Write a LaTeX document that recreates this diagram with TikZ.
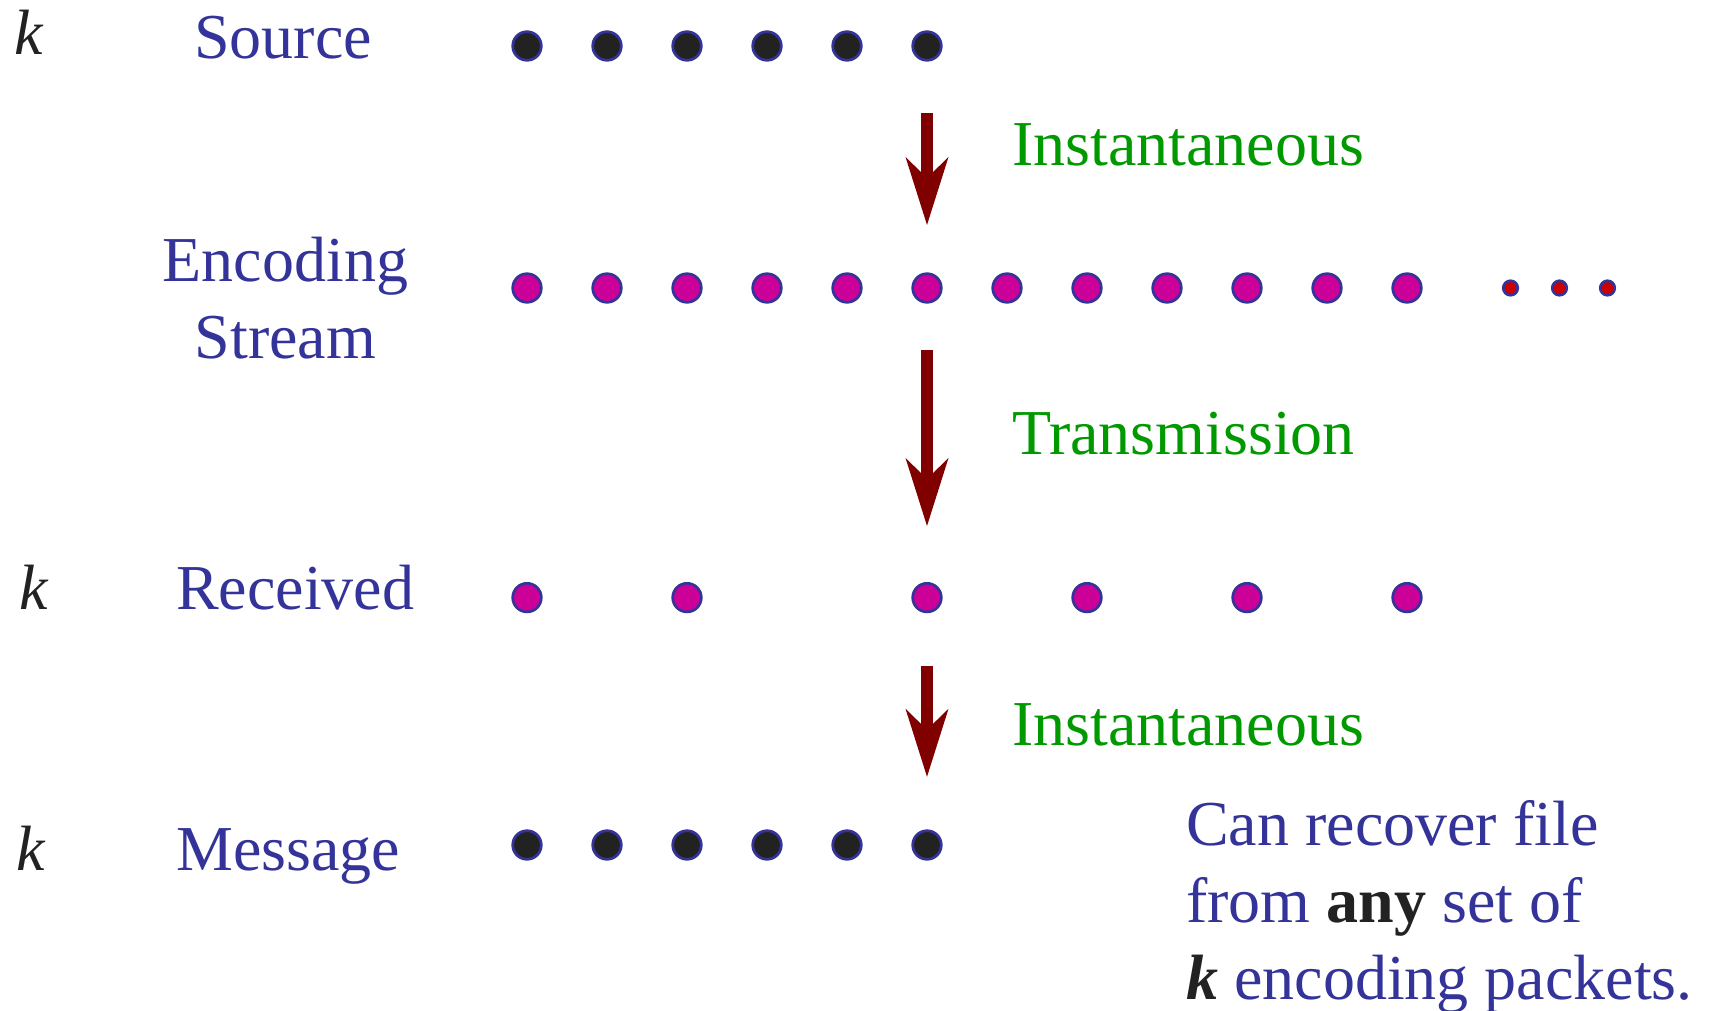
\documentclass[tikz,border=0pt]{standalone}
\usepackage{fontspec}
\setmainfont{Liberation Serif}
\usetikzlibrary{arrows.meta}

\definecolor{labelblue}{HTML}{333399}
\definecolor{stepgreen}{HTML}{009900}
\definecolor{arrowred}{HTML}{800000}
\definecolor{dotblack}{HTML}{222222}
\definecolor{dotmagenta}{HTML}{CC0099}
\definecolor{dotred}{HTML}{CC0000}

\tikzset{
    dot/.style={circle, draw=labelblue, line width=2.7pt, inner sep=0pt, minimum size=28.6pt},
    srcdot/.style={dot, fill=dotblack},
    encdot/.style={dot, fill=dotmagenta},
    moredot/.style={dot, fill=dotred, minimum size=14.5pt},
    flow/.style={-{Stealth[length=68pt, width=43pt, inset=21pt, line width=0pt]},
                 line width=11.7pt, arrowred},
    bigtext/.style={font=\fontsize{64}{77}\selectfont, inner sep=0pt},
    rowlabel/.style={bigtext, text=labelblue, anchor=base west},
    kcount/.style={bigtext, text=dotblack, anchor=base west, font=\fontsize{64}{77}\selectfont\itshape},
    steplabel/.style={bigtext, text=stepgreen, anchor=base west},
}

\begin{document}
\begin{tikzpicture}[x=1pt, y=-1pt]
    \useasboundingbox (0,0) rectangle (1710,1010);

    % Row labels
    \node[kcount]   (ksource)   at (14,54)   {k};
    \node[rowlabel] (source)    at (194,58)  {Source};
    \node[bigtext, text=labelblue, align=center, anchor=north] (stream) at (285.5,237) {Encoding\\Stream};
    \node[kcount]   (kreceived) at (19,609)  {k};
    \node[rowlabel] (received)  at (176,609) {Received};
    \node[kcount]   (kmessage)  at (16,870)  {k};
    \node[rowlabel] (message)   at (176,870) {Message};

    % Packets
    \foreach \i in {1,...,6}
        \node[srcdot] (s\i) at ({527+80*(\i-1)},46) {};
    \foreach \i in {1,...,12}
        \node[encdot] (e\i) at ({527+80*(\i-1)},288) {};
    \foreach \i [count=\j] in {1510.5,1559.5,1607.5}
        \node[moredot] (t\j) at (\i,288) {};
    \foreach \i in {1,3,6,8,10,12}
        \node[encdot] (r\i) at ({527+80*(\i-1)},597.6) {};
    \foreach \i in {1,...,6}
        \node[srcdot] (m\i) at ({527+80*(\i-1)},845) {};

    % Steps
    \draw[flow, shorten <=51.4pt, shorten >=47.4pt] (s6) -- (e6);
    \draw[flow, shorten <=46.4pt, shorten >=56pt]   (e6) -- (r6);
    \draw[flow, shorten <=52.5pt, shorten >=52.6pt] (r6) -- (m6);

    \node[steplabel] (encode)   at (1012,165) {Instantaneous};
    \node[steplabel] (transmit) at (1012,454) {Transmission};
    \node[steplabel] (decode)   at (1012,745) {Instantaneous};

    % Note
    \node[bigtext, text=labelblue, align=left, anchor=north west] (note) at (1186,800)
        {Can recover file\\from {\color{dotblack}\bfseries any} set of\\{\color{dotblack}\bfseries\itshape k} encoding packets.};
\end{tikzpicture}
\end{document}
